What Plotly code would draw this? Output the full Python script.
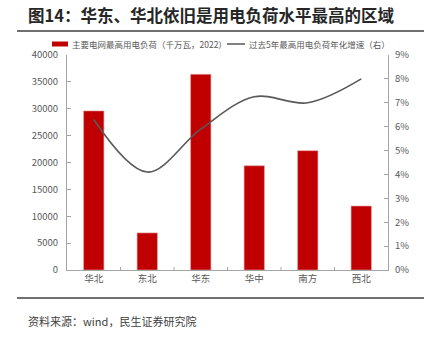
import plotly.graph_objects as go

regions = ["华北", "东北", "华东", "华中", "南方", "西北"]
peak_load = [29600, 6900, 36400, 19400, 22200, 11900]          # 千万瓦, 2022
growth_5y = [0.063, 0.041, 0.059, 0.0725, 0.070, 0.080]        # 过去5年年化增速

bar_name = "主要电网最高用电负荷（千万瓦，2022）"
line_name = "过去5年最高用电负荷年化增速（右）"
title_text = "图14：华东、华北依旧是用电负荷水平最高的区域"
source_text = "资料来源：wind，民生证券研究院"

FONT = "Noto Sans CJK SC, Microsoft YaHei, sans-serif"
RED = "#C00000"
GREY_TXT = "#595959"
AXIS = "#A6A6A6"

W, H = 435, 344
L, R, T, B = 67, 388, 55, 270   # plot area in pixels


def px(x):
    return (x - L) / (R - L)


def py(y):
    return (B - y) / (B - T)


fig = go.Figure()
fig.add_trace(go.Bar(
    x=regions, y=peak_load, name=bar_name,
    marker=dict(color=RED, line=dict(color="#E8A0A0", width=0.6)),
    yaxis="y", showlegend=False,
))
fig.add_trace(go.Scatter(
    x=regions, y=growth_5y, name=line_name, mode="lines",
    line=dict(color="#595959", width=1.6, shape="spline", smoothing=1.0),
    yaxis="y2", showlegend=False,
))

fig.update_layout(
    width=W, height=H,
    margin=dict(l=L, r=W - R, t=T, b=H - B, pad=0),
    paper_bgcolor="white", plot_bgcolor="white",
    font=dict(family=FONT, size=10, color=GREY_TXT),
    bargap=0.62,
    xaxis=dict(
        type="category", range=[-0.5, 5.5],
        showline=True, linecolor=AXIS, linewidth=1,
        ticks="", tickfont=dict(size=9.5, color=GREY_TXT),
        showgrid=False, zeroline=False,
    ),
    yaxis=dict(
        range=[0, 40000], dtick=5000, tickformat="d",
        showline=True, linecolor=AXIS, linewidth=1,
        ticks="inside", ticklen=4, tickcolor=AXIS,
        tickfont=dict(size=9.5, color=GREY_TXT),
        showgrid=False, zeroline=False, ticklabelstandoff=6,
    ),
    yaxis2=dict(
        range=[0, 0.09], dtick=0.01, tickformat=".0%",
        overlaying="y", side="right",
        showline=True, linecolor=AXIS, linewidth=1,
        ticks="inside", ticklen=4, tickcolor=AXIS,
        tickfont=dict(size=9.5, color=GREY_TXT),
        showgrid=False, zeroline=False, ticklabelstandoff=4,
    ),
)

shapes = []
# category separator ticks along the x axis
for i in range(1, 6):
    xc = px(L + i * (R - L) / 6)
    shapes.append(dict(type="line", xref="paper", yref="paper",
                       x0=xc, x1=xc, y0=0, y1=py(B - 3),
                       line=dict(color=AXIS, width=1)))
# title underline and footer rule
shapes.append(dict(type="line", xref="paper", yref="paper",
                   x0=px(17), x1=px(424), y0=py(31), y1=py(31),
                   line=dict(color="#404040", width=1.5)))
shapes.append(dict(type="line", xref="paper", yref="paper",
                   x0=px(17), x1=px(424), y0=py(298), y1=py(298),
                   line=dict(color="#404040", width=1.5)))
# legend keys
shapes.append(dict(type="rect", xref="paper", yref="paper",
                   x0=px(52), x1=px(68), y0=py(46.5), y1=py(41.5),
                   fillcolor=RED, line=dict(width=0)))
shapes.append(dict(type="line", xref="paper", yref="paper",
                   x0=px(227), x1=px(245), y0=py(44), y1=py(44),
                   line=dict(color="#595959", width=1.5)))

annotations = [
    dict(text=f"<b>{title_text}</b>", xref="paper", yref="paper",
         x=px(26), y=py(15), xanchor="left", yanchor="middle",
         showarrow=False, font=dict(size=16.5, color="#262626", family=FONT)),
    dict(text=bar_name, xref="paper", yref="paper",
         x=px(70), y=py(44), xanchor="left", yanchor="middle",
         showarrow=False, font=dict(size=8.5, color=GREY_TXT, family=FONT)),
    dict(text=line_name, xref="paper", yref="paper",
         x=px(247), y=py(44), xanchor="left", yanchor="middle",
         showarrow=False, font=dict(size=8.5, color=GREY_TXT, family=FONT)),
    dict(text=source_text, xref="paper", yref="paper",
         x=px(26), y=py(321), xanchor="left", yanchor="middle",
         showarrow=False, font=dict(size=11, color="#404040", family=FONT)),
]

fig.update_layout(shapes=shapes, annotations=annotations)
fig.write_html("out.html")
